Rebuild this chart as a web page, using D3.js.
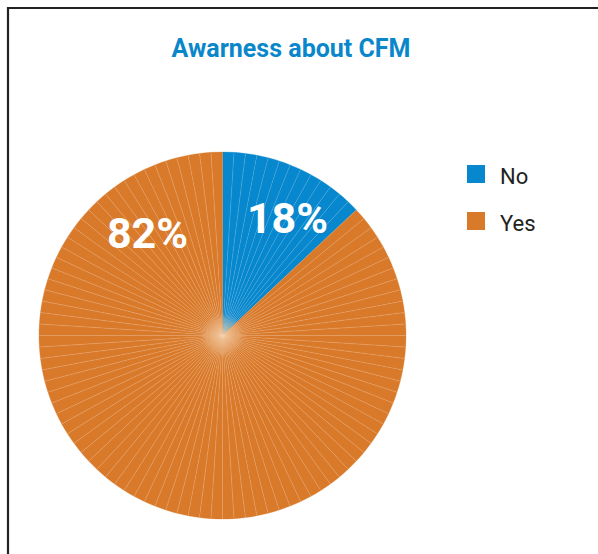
<!DOCTYPE html>
<html>
<head>
<meta charset="utf-8">
<script src="https://cdn.jsdelivr.net/npm/d3@7"></script>
<style>
  body { margin: 0; background: #fff; }
  svg { display: block; }
</style>
</head>
<body>
<div id="chart-area"></div>
<script>
const WIDTH = 598
const HEIGHT = 554

const categories = ["No", "Yes"]
// labels printed on the chart
const labels = ["18%", "82%"]
// shares as the slices are actually drawn in the picture (blue edge at ~47deg)
const sliceShares = [13, 87]
const colors = ["#0787cd", "#d97a2b"]

const svg = d3.select("#chart-area").append("svg")
    .attr("width", WIDTH)
    .attr("height", HEIGHT)

// frame (runs off the right and bottom edges)
svg.append("path")
    .attr("d", `M8,${HEIGHT + 5} L8,8 L${WIDTH + 5},8`)
    .attr("fill", "none")
    .attr("stroke", "#222")
    .attr("stroke-width", 2.2)

// title
svg.append("text")
    .attr("x", 291)
    .attr("y", 57)
    .attr("text-anchor", "middle")
    .attr("font-family", "Roboto, sans-serif")
    .attr("font-weight", "700")
    .attr("font-size", "25px")
    .attr("fill", "#0a87cb")
    .text("Awarness about CFM")

const cx = 222.5, cy = 335.5, radius = 183.5

const g = svg.append("g")
    .attr("transform", `translate(${cx}, ${cy})`)

const pie = d3.pie().sort(null).value(d => d)
const arcs = pie(sliceShares)
const arc = d3.arc().innerRadius(0).outerRadius(radius)

// each slice is drawn as one wedge per percent, giving the thin seams
arcs.forEach((a, i) => {
    const n = sliceShares[i]
    const step = (a.endAngle - a.startAngle) / n
    const pieces = d3.range(n).map(k => ({
        startAngle: a.startAngle + k * step,
        endAngle: a.startAngle + (k + 1) * step
    }))
    g.selectAll(null)
        .data(pieces)
        .enter().append("path")
        .attr("d", arc)
        .attr("fill", colors[i])
        .attr("stroke", colors[i])
        .attr("stroke-width", 0.3)
    g.selectAll(null)
        .data(pieces)
        .enter().append("line")
        .attr("x1", 0).attr("y1", 0)
        .attr("x2", d => radius * Math.sin(d.startAngle))
        .attr("y2", d => -radius * Math.cos(d.startAngle))
        .attr("stroke", "#fff")
        .attr("stroke-opacity", 0.25)
        .attr("stroke-width", 0.6)
})

// soft glow at the centre
const glow = svg.append("defs").append("radialGradient").attr("id", "glow")
glow.append("stop").attr("offset", "0%").attr("stop-color", "#f2c79a").attr("stop-opacity", 0.8)
glow.append("stop").attr("offset", "100%").attr("stop-color", "#f2c79a").attr("stop-opacity", 0)
g.append("circle").attr("r", 22).attr("fill", "url(#glow)")

// percentage labels
const labelPos = [[65, -103], [-75, -88]]
g.selectAll(".pct")
    .data(arcs)
    .enter().append("text")
    .attr("class", "pct")
    .attr("x", (d, i) => labelPos[i][0])
    .attr("y", (d, i) => labelPos[i][1])
    .attr("text-anchor", "middle")
    .attr("font-family", "Roboto, sans-serif")
    .attr("font-weight", "700")
    .attr("font-size", "43px")
    .attr("fill", "#fff")
    .text((d, i) => labels[i])

// legend
const legend = svg.append("g")
    .attr("transform", "translate(467, 165)")
const item = legend.selectAll(".item")
    .data(categories)
    .enter().append("g")
    .attr("transform", (d, i) => `translate(0, ${i * 47})`)
item.append("rect")
    .attr("width", 18)
    .attr("height", 18)
    .attr("fill", (d, i) => colors[i])
item.append("text")
    .attr("x", 33)
    .attr("y", 19)
    .attr("font-family", "Roboto, sans-serif")
    .attr("font-size", "22px")
    .attr("fill", "#231f20")
    .text(d => d)
</script>
</body>
</html>
